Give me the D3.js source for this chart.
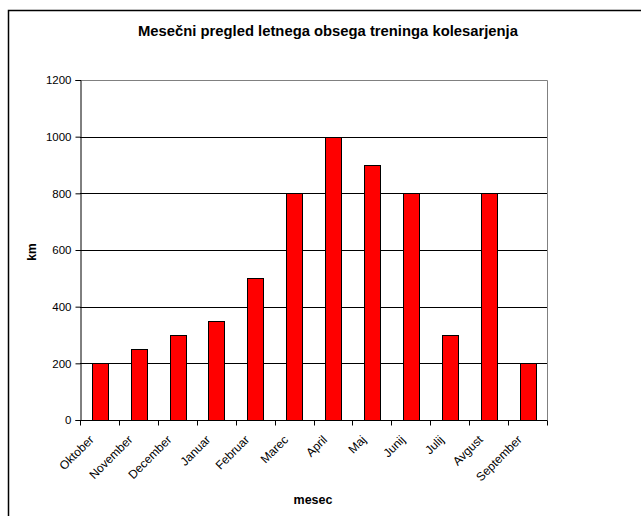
<!DOCTYPE html>
<html><head><meta charset="utf-8">
<script src="https://cdn.jsdelivr.net/npm/d3@7"></script>
<style>body{margin:0;background:#fff}svg{display:block}text{font-family:"Liberation Sans",Arial,sans-serif}</style>
</head><body>
<script>
const categories = ["Oktober","November","December","Januar","Februar","Marec","April","Maj","Junij","Julij","Avgust","September"];
const values = [200,250,300,350,500,800,1000,900,800,300,800,200];
const yTicks = [0,200,400,600,800,1000,1200];
const title = "Mesečni pregled letnega obsega treninga kolesarjenja";
const xTitle = "mesec", yTitle = "km";

const W=641,H=516;
const svg=d3.select("body").append("svg").attr("width",W).attr("height",H);
svg.append("rect").attr("x",0).attr("y",0).attr("width",W).attr("height",H).attr("fill","#fff");
// outer border (top and left)
svg.append("path").attr("d","M8.5,516 V10.5 H641").attr("fill","none").attr("stroke","#000").attr("stroke-width",1.5);

const L=80,R=547,T=80,B=420;
const x=d3.scaleBand().domain(categories).range([L,R]).paddingInner(0.6).paddingOuter(0.3);
const xb=d3.scaleBand().domain(categories).range([L,R]);
const y=d3.scaleLinear().domain([0,1200]).range([B,T]);

// gridlines
svg.append("g").selectAll("line").data(yTicks.filter(d=>d>0&&d<1200)).join("line")
 .attr("x1",L).attr("x2",R).attr("y1",d=>Math.round(y(d))+0.5).attr("y2",d=>Math.round(y(d))+0.5)
 .attr("stroke","#000").attr("stroke-width",1);
// plot border top/right
svg.append("path").attr("d",`M${L},${T+0.5} H${R+0.5} V${B}`).attr("fill","none").attr("stroke","#808080").attr("stroke-width",1);

// bars
svg.append("g").selectAll("rect").data(values).join("rect")
 .attr("x",(d,i)=>Math.round(x(categories[i]))+0.5)
 .attr("y",d=>Math.round(y(d))+0.5)
 .attr("width",Math.round(x.bandwidth()))
 .attr("height",d=>Math.round(y(0))-Math.round(y(d)))
 .attr("fill","#ff0000").attr("stroke","#000").attr("stroke-width",1);

// y axis
const ya=svg.append("g").attr("transform",`translate(${L+0.5},0)`)
 .call(d3.axisLeft(y).tickValues(yTicks).tickSize(5).tickPadding(4).tickFormat(d3.format("d")));
ya.select(".domain").attr("stroke","#000");
ya.selectAll("text").attr("font-size",11.5).attr("fill","#000").attr("font-family","Liberation Sans, Arial, sans-serif");
ya.selectAll(".tick line").attr("stroke","#000");

// x axis
const xa=svg.append("g").attr("transform",`translate(0,${B+0.5})`);
xa.append("line").attr("x1",L).attr("x2",R+0.5).attr("stroke","#000");
xa.selectAll("line.t").data(categories.concat(["_end"])).join("line").attr("class","t")
 .attr("x1",(d,i)=>Math.round(L+i*xb.bandwidth())+0.5).attr("x2",(d,i)=>Math.round(L+i*xb.bandwidth())+0.5)
 .attr("y1",0).attr("y2",5).attr("stroke","#000");
xa.selectAll("text").data(categories).join("text")
 .attr("transform",d=>`translate(${xb(d)+xb.bandwidth()/2-5},20) rotate(-45)`)
 .attr("text-anchor","end").attr("font-size",12).attr("fill","#000").text(d=>d);

// titles
svg.append("text").attr("x",328).attr("y",36).attr("text-anchor","middle")
 .attr("font-size",14.8).attr("font-weight","bold").text(title);
svg.append("text").attr("x",313).attr("y",504).attr("text-anchor","middle")
 .attr("font-size",12.5).attr("font-weight","bold").text(xTitle);
svg.append("text").attr("transform","translate(36,252) rotate(-90)").attr("text-anchor","middle")
 .attr("font-size",12).attr("font-weight","bold").text(yTitle);
</script>
</body></html>
